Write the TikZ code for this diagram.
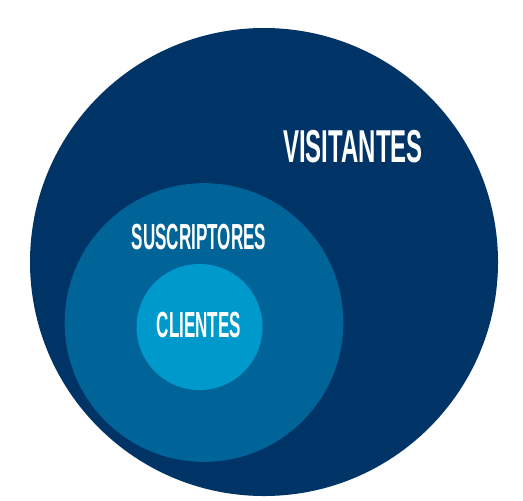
\documentclass[tikz,border=0pt]{standalone}
\usepackage{fontspec}
\setmainfont{Liberation Sans}[FakeStretch=0.47]
\newfontfamily\widefont{Liberation Sans}[FakeStretch=0.52]
\definecolor{navy}{RGB}{0,52,102}
\definecolor{midblue}{RGB}{0,100,152}
\definecolor{lightblue}{RGB}{0,153,204}
\tikzset{
    ring/.style={circle, inner sep=0pt, draw=none},
    label text/.style={text=white, font=\bfseries, inner sep=0pt}
}
\begin{document}
\begin{tikzpicture}[x=0.75pt, y=-0.75pt]
    \useasboundingbox (0, 0) rectangle (523, 500);
    
    % Circles
    \node[ring, fill=navy, minimum size=351pt] (visit) at (264, 262) {};
    \node[ring, fill=midblue, minimum size=209pt] (suscr) at (204, 322.5) {};
    \node[ring, fill=lightblue, minimum size=94.5pt] (client) at (199.5, 327) {};
    
    % Labels
    \node[label text, font=\widefont\bfseries\fontsize{34.6}{36}\selectfont] (visitlbl) at (353, 147) {VISITANTES};
    \node[label text, font=\bfseries\fontsize{27.2}{29}\selectfont] (suscrlbl) at (199, 237) {SUSCRIPTORES};
    \node[label text, font=\bfseries\fontsize{27.2}{29}\selectfont] (clientlbl) at (199, 325) {CLIENTES};
\end{tikzpicture}
\end{document}
